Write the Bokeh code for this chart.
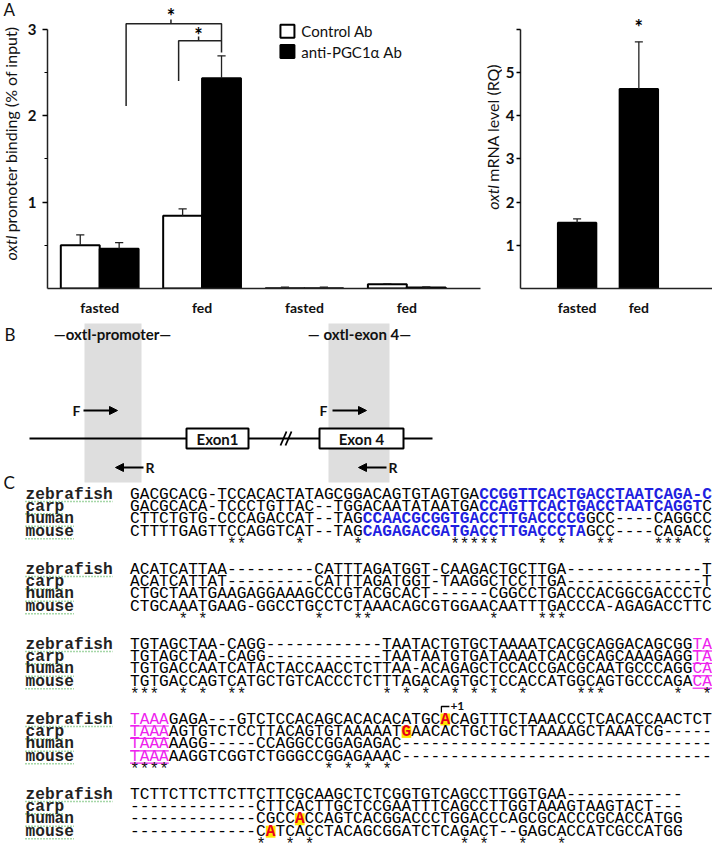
import numpy as np
from math import pi
from bokeh.plotting import figure
from bokeh.models import Range1d, FixedTicker, Arrow, NormalHead
from bokeh.layouts import column, row
from bokeh.embed import file_html
from bokeh.resources import INLINE
from bokeh.core.properties import value

SANS = "Lato"
MONO = "Liberation Mono"

# ---------------- data: panel A (ChIP) ----------------
chip_labels = ["fasted", "fed", "fasted", "fed"]
chip_control = [0.50, 0.84, 0.004, 0.05]
chip_control_sem = [0.12, 0.08, 0.012, 0.006]
chip_anti = [0.46, 2.43, 0.004, 0.012]
chip_anti_sem = [0.07, 0.26, 0.012, 0.006]
chip_yticks = [1, 2, 3]
chip_minor_ticks = [0.5, 1.5, 2.5]
legend_labels = ["Control Ab", "anti-PGC1\u03b1 Ab"]

# ---------------- data: panel A (mRNA) ----------------
mrna_labels = ["fasted", "fed"]
mrna_level = [1.52, 4.62]
mrna_sem = [0.09, 1.09]
mrna_yticks = [1, 2, 3, 4, 5, 6]

# ---------------- data: panel C (alignment) ----------------
species = ["zebrafish", "carp", "human", "mouse"]
block1 = ["GACGCACG-TCCACACTATAGCGGACAGTGTAGTGACCGGTTCACTGACCTAATCAGA-C",
          "GACGCACA-TCCCTGTTAC--TGGACAATATAATGACCAGTTCACTGACCTAATCAGGTC",
          "CTTCTGTG-CCCAGACCAT--TAGCCAACGCGGTGACCTTGACCCCGGCC----CAGGCC",
          "CTTTTGAGTTCCAGGTCAT--TAGCAGAGACGATGACCTTGACCCTAGCC----CAGACC"]
block2 = ["ACATCATTAA---------CATTTAGATGGT-CAAGACTGCTTGA--------------T",
          "ACATCATTAT---------CATTTAGATGGT-TAAGGCTCCTTGA--------------T",
          "CTGCTAATGAAGAGGAAAGCCCGTACGCACT------CGGCCTGACCCACGGCGACCCTC",
          "CTGCAAATGAAG-GGCCTGCCTCTAAACAGCGTGGAACAATTTGACCCA-AGAGACCTTC"]
block3 = ["TGTAGCTAA-CAGG------------TAATACTGTGCTAAAATCACGCAGGACAGCGGTA",
          "TGTAGCTAA-CAGG------------TAATAATGTGATAAAATCACGCAGCAAAGAGGTA",
          "TGTGACCAATCATACTACCAACCTCTTAA-ACAGAGCTCCACCGACGCAATGCCCAGGCA",
          "TGTGACCAGTCATGCTGTCACCCTCTTTAGACAGTGCTCCACCATGGCAGTGCCCAGACA"]
block4 = ["TAAAGAGA---GTCTCCACAGCACACACATGCACAGTTTCTAAACCCTCACACCAACTCT",
          "TAAAAGTGTCTCCTTACAGTGTAAAAATGAACACTGCTGCTTAAAAGCTAAATCG-----",
          "TAAAAAGG-----CCAGGCCGGAGAGAC--------------------------------",
          "TAAAAAGGTCGGTCTGGGCCGGAGAAAC--------------------------------"]
block5 = ["TCTTCTTCTTCTTCTTCGCAAGCTCTCGGTGTCAGCCTTGGTGAA------------",
          "-------------CTTCACTTGCTCCGAATTTCAGCCTTGGTAAAGTAAGTACT---",
          "-------------CGCCACCAGTCACGGACCCTGGACCCAGCGCACCCGCACCATGG",
          "-------------CATCACCTACAGCGGATCTCAGACT--GAGCACCATCGCCATGG"]
blocks = [block1, block2, block3, block4, block5]
# (block, row) -> [start, end) of blue (PPRE) letters
blue_spans = {(0, 0): (36, 60), (0, 1): (36, 59), (0, 2): (24, 47), (0, 3): (24, 47)}
# (block, row) -> [start, end) of magenta underlined (TATA) letters
pink_spans = {(2, 0): (58, 60), (2, 1): (58, 60), (2, 2): (58, 60), (2, 3): (58, 60),
              (3, 0): (0, 4), (3, 1): (0, 4), (3, 2): (0, 4), (3, 3): (0, 4)}
# transcription start sites (block, row, column)
tss_marks = [(3, 0, 32), (3, 1, 28), (4, 2, 17), (4, 3, 14)]
plus_one = (3, 0, 32)

INK = "#111111"


def style_axes(p, xt, xlabels, yt, minor, ybound, tick_out, standoff, hidden=None):
    p.grid.visible = False
    p.outline_line_color = None
    xa = p.xaxis[0]
    ya = p.yaxis[0]
    xa.ticker = FixedTicker(ticks=xt)
    xa.major_label_overrides = {t: l for t, l in zip(xt, xlabels)}
    xa.major_tick_line_color = None
    xa.minor_tick_line_color = None
    xa.axis_line_width = 1.5
    xa.axis_line_color = "#222222"
    xa.major_label_text_font = SANS
    xa.major_label_text_font_style = "bold"
    xa.major_label_text_font_size = "14px"
    xa.major_label_text_color = INK
    xa.major_label_standoff = 4
    ya.ticker = FixedTicker(ticks=yt, minor_ticks=minor)
    ya.bounds = ybound
    ya.axis_line_width = 1.5
    ya.axis_line_color = "#222222"
    ya.major_tick_out = tick_out
    ya.major_tick_in = 0
    ya.major_tick_line_width = 1.5
    ya.minor_tick_out = 3
    ya.minor_tick_in = 0
    ya.minor_tick_line_width = 1.2
    ya.major_label_text_font = SANS
    ya.major_label_text_font_style = "bold"
    ya.major_label_text_font_size = "15px"
    ya.major_label_text_color = INK
    ya.major_label_standoff = standoff
    if hidden:
        ya.major_label_overrides = {h: "" for h in hidden}


def errbars(p, x, top, sem, capw):
    x = np.asarray(x, float)
    top = np.asarray(top, float)
    hi = top + np.asarray(sem, float)
    p.segment(x0=x, y0=top, x1=x, y1=hi, line_color="#222222", line_width=1.3)
    p.segment(x0=x - capw, y0=hi, x1=x + capw, y1=hi, line_color="#222222", line_width=1.3)


def blank_canvas(w, h):
    c = figure(width=w, height=h, x_range=Range1d(0, w), y_range=Range1d(0, h),
               output_backend="svg", toolbar_location=None, min_border=0,
               x_axis_type=None, y_axis_type=None)
    c.grid.visible = False
    c.outline_line_color = None
    return c


def ytitle(c, h, x, sy_bottom, italic_width, italic_part, rest):
    # rotated title reading upwards; both parts start at their anchor and run up the page
    c.text(x=[x], y=[h - sy_bottom], text=[italic_part], angle=pi / 2, text_align="left",
           text_baseline="middle", text_font=value(SANS), text_font_style="italic",
           text_font_size="16px", text_color=INK)
    c.text(x=[x], y=[h - sy_bottom + italic_width + 4], text=[rest], angle=pi / 2,
           text_align="left", text_baseline="middle", text_font=value(SANS),
           text_font_size="16px", text_color=INK)


TOP_H = 318

# ================= Panel A: title strip left =================
t1 = blank_canvas(24, TOP_H)
t1.text(x=[3], y=[TOP_H - 10], text=["A"], text_font=value(SANS), text_font_size="17px",
        text_baseline="middle", text_align="left", text_color=INK)
ytitle(t1, TOP_H, 10, 287, 27, "oxtl", "promoter binding (% of input)")

# ================= Panel A left: ChIP =================
p1 = figure(width=458, height=TOP_H, x_range=Range1d(0.49, 4.72), y_range=Range1d(0, 3.33),
            output_backend="svg", toolbar_location=None,
            min_border_left=21, min_border_right=2, min_border_top=0, min_border_bottom=25)
centers = np.arange(1, len(chip_labels) + 1)
style_axes(p1, list(centers), chip_labels, chip_yticks, chip_minor_ticks, (0, 3), 5, 6)
bw = 0.38
x_ctrl = centers - bw / 2
x_anti = centers + bw / 2
p1.vbar(x=x_ctrl, top=chip_control, width=bw, fill_color="white", line_color="black", line_width=2)
p1.vbar(x=x_anti, top=chip_anti, width=bw, fill_color="black", line_color="black", line_width=2)
errbars(p1, x_ctrl, chip_control, chip_control_sem, 0.04)
errbars(p1, x_anti, chip_anti, chip_anti_sem, 0.04)

# significance brackets
xr = x_anti[1]
p1.line(x=[1.258, 1.258, xr, xr], y=[2.11, 3.06, 3.06, 2.73], line_color="#222222", line_width=1.5)
p1.line(x=[1.771, 1.771, xr], y=[2.40, 2.864, 2.864], line_color="#222222", line_width=1.5)
p1.segment(x0=[1.696, 1.966], y0=[3.06, 2.864], x1=[1.696, 1.966], y1=[3.11, 2.914],
           line_color="#222222", line_width=1.5)
p1.text(x=[1.696, 1.966], y=[3.15, 2.93], text=["*", "*"], text_font=value(SANS),
        text_font_style="bold", text_font_size="20px", text_align="center", text_baseline="middle")

# legend
p1.rect(x=[2.834, 2.834], y=[2.974, 2.739], width=14, height=13, width_units="screen",
        height_units="screen", fill_color=["white", "black"], line_color="black", line_width=2)
p1.text(x=[2.97, 2.97], y=[2.974, 2.739], text=legend_labels, text_font=value(SANS),
        text_font_size="15px", text_baseline="middle", text_align="left", text_color=INK)

# ================= Panel A: title strip right =================
t2 = blank_canvas(20, TOP_H)
ytitle(t2, TOP_H, 9.7, 231, 27, "oxtl", "mRNA level (RQ)")

# ================= Panel A right: mRNA =================
p2 = figure(width=210, height=TOP_H, x_range=Range1d(0.083, 3.193), y_range=Range1d(0, 6.667),
            output_backend="svg", toolbar_location=None,
            min_border_left=15, min_border_right=0, min_border_top=0, min_border_bottom=25)
mcent = np.arange(1, len(mrna_labels) + 1)
style_axes(p2, list(mcent), mrna_labels, mrna_yticks, [], (0, 6), 4, 2, hidden=[6])
p2.vbar(x=mcent, top=mrna_level, width=0.622, fill_color="black", line_color="black", line_width=2)
errbars(p2, mcent, mrna_level, mrna_sem, 0.065)
p2.text(x=[mcent[1]], y=[6.05], text=["*"], text_font=value(SANS), text_font_style="bold",
        text_font_size="20px", text_align="center", text_baseline="middle")

# ================= Panels B and C (schematic canvas in page pixels, y down) =================
BOT_TOP = TOP_H
BOT_H = 853 - TOP_H
p3 = figure(width=712, height=BOT_H, x_range=Range1d(0, 712), y_range=Range1d(853, BOT_TOP),
            output_backend="svg", toolbar_location=None, min_border=0,
            x_axis_type=None, y_axis_type=None)
p3.grid.visible = False
p3.outline_line_color = None

# ---- Panel B ----
p3.text(x=[4], y=[334], text=["B"], text_font=value(SANS), text_font_size="17px",
        text_baseline="middle", text_color=INK)
p3.quad(left=[84, 328], right=[141, 389], top=[323, 323], bottom=[482, 482],
        fill_color="#dedede", line_color=None)
p3.text(x=[112, 359], y=[333, 333], text=["\u2014oxtl-promoter\u2014", "\u2014 oxtl-exon 4\u2014"],
        text_font=value(SANS), text_font_style="bold", text_font_size="15px",
        text_align="center", text_baseline="middle", text_color=INK)
gy = 438
p3.segment(x0=[29], y0=[gy], x1=[432], y1=[gy], line_color="black", line_width=2.2)
p3.quad(left=[186, 319], right=[248, 403], top=[428, 428], bottom=[448, 448],
        fill_color="white", line_color="black", line_width=2)
p3.text(x=[217, 361], y=[438.5, 438.5], text=["Exon1", "Exon 4"], text_font=value(SANS),
        text_font_style="bold", text_font_size="15px", text_align="center",
        text_baseline="middle", text_color=INK)
p3.segment(x0=[280, 285], y0=[445, 445], x1=[286, 291], y1=[431, 431], line_color="black",
           line_width=1.8)
for xs, xe, yy in [(83, 117, 410), (332, 366, 410), (143, 115, 467), (386, 358, 467)]:
    p3.add_layout(Arrow(end=NormalHead(size=8, fill_color="black", line_color="black"),
                        x_start=xs, y_start=yy, x_end=xe, y_end=yy, line_width=2,
                        line_color="black"))
p3.text(x=[76, 323], y=[410, 410], text=["F", "F"], text_font=value(SANS),
        text_font_style="bold", text_font_size="14px", text_align="center",
        text_baseline="middle", text_color=INK)
p3.text(x=[145, 388], y=[467, 467], text=["R", "R"], text_font=value(SANS),
        text_font_style="bold", text_font_size="14px", text_align="left",
        text_baseline="middle", text_color=INK)

# ---- Panel C ----
p3.text(x=[3], y=[482], text=["C"], text_font=value(SANS), text_font_size="17px",
        text_baseline="middle", text_color=INK)

X0 = 129.5
CW = 9.7
FS = "16.17px"
PITCH = 12.4
block_y = [494, 569, 644, 719, 794]
NAME_X = 25

groups = {k: dict(x=[], y=[], t=[]) for k in "nbmh"}
stars_x, stars_y = [], []
hl_x, hl_y = [], []
ul = dict(x0=[], x1=[], y=[])
name_x, name_y, name_t = [], [], []
sq = dict(x0=[], x1=[], y=[])

for b, blk in enumerate(blocks):
    y0 = block_y[b]
    for r, s in enumerate(blk):
        y = y0 + r * PITCH
        st = ["n"] * len(s)
        if (b, r) in blue_spans:
            a, e = blue_spans[(b, r)]
            for i in range(a, e):
                st[i] = "b"
        if (b, r) in pink_spans:
            a, e = pink_spans[(b, r)]
            for i in range(a, e):
                st[i] = "m"
            ul["x0"].append(X0 + a * CW)
            ul["x1"].append(X0 + e * CW)
            ul["y"].append(y + 6.5)
        for (bb, rr, cc) in tss_marks:
            if bb == b and rr == r:
                st[cc] = "h"
                hl_x.append(X0 + (cc + 0.5) * CW)
                hl_y.append(y)
        start = 0
        for i in range(1, len(s) + 1):
            if i == len(s) or st[i] != st[start]:
                g = groups[st[start]]
                g["x"].append(X0 + start * CW)
                g["y"].append(y)
                g["t"].append(s[start:i])
                start = i
        name_x.append(NAME_X)
        name_y.append(y)
        name_t.append(species[r])
        sq["x0"].append(NAME_X)
        sq["x1"].append(NAME_X + len(species[r]) * CW)
        sq["y"].append(y + 7)
    for i in range(len(blk[0])):
        col = {blk[r][i] for r in range(len(blk))}
        if len(col) == 1 and "-" not in col:
            stars_x.append(X0 + (i + 0.5) * CW)
            stars_y.append(y0 + 4 * PITCH + 1)

p3.rect(x=hl_x, y=hl_y, width=CW, height=12, fill_color="#ffe600", line_color=None)
p3.segment(x0=ul["x0"], y0=ul["y"], x1=ul["x1"], y1=ul["y"], line_color="#ee22ee", line_width=1.2)
p3.segment(x0=sq["x0"], y0=sq["y"], x1=sq["x1"], y1=sq["y"], line_color="#4caf50",
           line_width=1.6, line_dash="1 2")
p3.text(x=name_x, y=name_y, text=name_t, text_font=value(MONO), text_font_style="bold",
        text_font_size=FS, text_baseline="middle", text_align="left", text_color="#222222")
styles = {"n": ("#000000", "normal"), "b": ("#1f1fe0", "bold"), "m": ("#ee22ee", "normal"),
          "h": ("#e8001c", "bold")}
for k, (colr, fs) in styles.items():
    g = groups[k]
    if g["t"]:
        p3.text(x=g["x"], y=g["y"], text=g["t"], text_font=value(MONO), text_font_style=fs,
                text_font_size=FS, text_baseline="middle", text_align="left", text_color=colr)
p3.text(x=stars_x, y=stars_y, text=["*"] * len(stars_x), text_font=value(MONO),
        text_font_size="16px", text_baseline="middle", text_align="center", text_color=INK)

# +1 marker above the zebrafish start site
pb, pr, pc = plus_one
py = block_y[pb] + pr * PITCH
bx = X0 + pc * CW + 1
p3.line(x=[bx, bx, bx + 8], y=[py - 7, py - 13, py - 13], line_color="black", line_width=1.3)
p3.text(x=[bx + 9], y=[py - 14], text=["+1"], text_font=value(SANS), text_font_style="bold",
        text_font_size="12px", text_baseline="middle", text_align="left", text_color=INK)

layout = column(row(t1, p1, t2, p2), p3)
open("out.html", "w").write(file_html(layout, INLINE))
